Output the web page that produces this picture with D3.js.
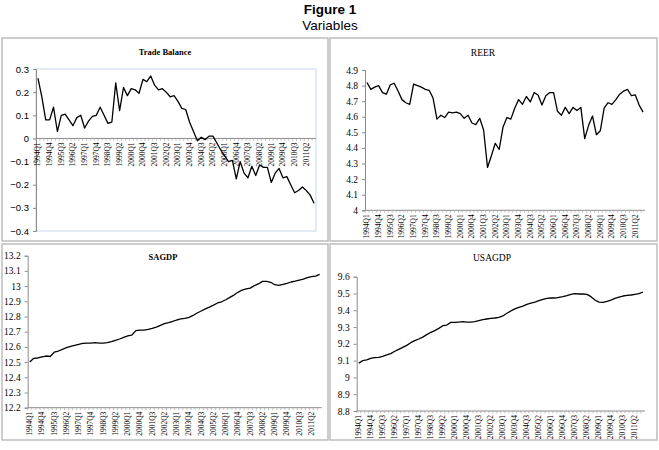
<!DOCTYPE html>
<html>
<head>
<meta charset="utf-8">
<script src="https://cdnjs.cloudflare.com/ajax/libs/d3/7.8.5/d3.min.js"></script>
<style>
  body { margin: 0; background: #fff; }
  svg { display: block; }
  .serif { font-family: "Liberation Serif", "Times New Roman", serif; }
  .sans { font-family: "Liberation Sans", Arial, sans-serif; }
</style>
</head>
<body>
<svg width="659" height="450"></svg>
<script>
const years = d3.range(1994, 2012)
const quarters = []
years.forEach(y => { ["Q1", "Q2", "Q3", "Q4"].forEach(q => quarters.push(y + q)) })

const tradeBalance = [
  0.26, 0.18, 0.08, 0.08, 0.135, 0.03, 0.10, 0.105, 0.08, 0.055, 0.09, 0.10,
  0.045, 0.075, 0.095, 0.10, 0.135, 0.10, 0.065, 0.07, 0.24, 0.12, 0.22, 0.185,
  0.215, 0.21, 0.195, 0.255, 0.245, 0.27, 0.23, 0.21, 0.215, 0.20, 0.18, 0.185,
  0.16, 0.13, 0.125, 0.07, 0.03, -0.01, 0.005, -0.005, 0.01, 0.01, -0.02, -0.05,
  -0.075, -0.10, -0.095, -0.175, -0.10, -0.15, -0.17, -0.12, -0.16, -0.115, -0.125, -0.125,
  -0.19, -0.15, -0.13, -0.17, -0.165, -0.20, -0.235, -0.225, -0.21, -0.225, -0.245, -0.28
]

const reer = [
  4.82, 4.776, 4.79, 4.80, 4.755, 4.745, 4.805, 4.815, 4.765, 4.71, 4.69, 4.68,
  4.81, 4.80, 4.79, 4.776, 4.77, 4.72, 4.585, 4.61, 4.595, 4.63, 4.625, 4.63,
  4.62, 4.59, 4.61, 4.56, 4.55, 4.59, 4.515, 4.275, 4.35, 4.43, 4.39, 4.535,
  4.595, 4.585, 4.655, 4.71, 4.68, 4.73, 4.695, 4.755, 4.74, 4.675, 4.735, 4.755,
  4.755, 4.635, 4.61, 4.66, 4.62, 4.66, 4.64, 4.66, 4.46, 4.545, 4.605, 4.485,
  4.51, 4.655, 4.69, 4.68, 4.71, 4.745, 4.765, 4.776, 4.735, 4.74, 4.675, 4.63
]

const sagdp = [
  12.50, 12.525, 12.527, 12.535, 12.54, 12.537, 12.565, 12.573, 12.584, 12.595, 12.603, 12.61,
  12.617, 12.623, 12.625, 12.625, 12.628, 12.625, 12.625, 12.628, 12.634, 12.643, 12.652, 12.663,
  12.672, 12.678, 12.707, 12.711, 12.711, 12.715, 12.722, 12.73, 12.742, 12.753, 12.76, 12.768,
  12.777, 12.784, 12.788, 12.794, 12.807, 12.823, 12.836, 12.85, 12.862, 12.875, 12.889, 12.897,
  12.91, 12.926, 12.941, 12.959, 12.974, 12.981, 12.987, 13.003, 13.014, 13.031, 13.031, 13.025,
  13.009, 13.005, 13.011, 13.018, 13.027, 13.033, 13.04, 13.046, 13.055, 13.062, 13.066, 13.077
]

const usagdp = [
  9.084, 9.10, 9.104, 9.114, 9.118, 9.12, 9.126, 9.134, 9.142, 9.156, 9.167, 9.179,
  9.191, 9.207, 9.219, 9.229, 9.24, 9.255, 9.268, 9.279, 9.292, 9.308, 9.312, 9.328,
  9.328, 9.33, 9.332, 9.33, 9.33, 9.332, 9.338, 9.344, 9.348, 9.352, 9.354, 9.358,
  9.366, 9.382, 9.396, 9.408, 9.417, 9.425, 9.435, 9.443, 9.449, 9.457, 9.465, 9.471,
  9.473, 9.473, 9.477, 9.481, 9.487, 9.495, 9.499, 9.497, 9.497, 9.495, 9.481, 9.461,
  9.449, 9.447, 9.453, 9.461, 9.471, 9.479, 9.485, 9.489, 9.491, 9.495, 9.499, 9.509
]

const svg = d3.select("svg")

svg.append("text")
  .attr("class", "sans")
  .attr("x", 330).attr("y", 14)
  .attr("text-anchor", "middle")
  .attr("font-size", 13.5).attr("font-weight", "bold")
  .text("Figure 1")

svg.append("text")
  .attr("class", "sans")
  .attr("x", 330).attr("y", 30)
  .attr("text-anchor", "middle")
  .attr("font-size", 13.5)
  .text("Variables")

// panel frames
const frames = [
  { x: 2, y: 38, w: 326, h: 203 },
  { x: 330, y: 38, w: 327, h: 203 },
  { x: 2, y: 244, w: 326, h: 196 },
  { x: 330, y: 244, w: 327, h: 196 }
]
svg.selectAll("rect.frame")
  .data(frames)
  .enter()
  .append("rect")
  .attr("class", "frame")
  .attr("x", d => d.x).attr("y", d => d.y)
  .attr("width", d => d.w).attr("height", d => d.h)
  .attr("fill", "none")
  .attr("stroke", "#bdbdbd")
  .attr("stroke-width", 1.5)

const charts = [
  { title: "Trade Balance", values: tradeBalance, x0: 36, x1: 316, y0: 231, y1: 69,
    domain: [-0.4, 0.3], axisAt: 0, tickFont: "sans", tickSize: 9.5, titleX: 165, titleY: 55,
    titleSize: 8.5, titleBold: true, border: true },
  { title: "REER", values: reer, x0: 365, x1: 645, y0: 210.3, y1: 70,
    domain: [4, 4.9], axisAt: 4, tickFont: "serif", tickSize: 9.5, titleX: 483, titleY: 56,
    titleSize: 9.5, titleBold: false },
  { title: "SAGDP", values: sagdp, x0: 27.7, x1: 321.7, y0: 407.7, y1: 255.7,
    domain: [12.2, 13.2], axisAt: 12.2, tickFont: "serif", tickSize: 9.5, titleX: 163, titleY: 260,
    titleSize: 8.5, titleBold: true },
  { title: "USAGDP", values: usagdp, x0: 356.7, x1: 645, y0: 411, y1: 276.7,
    domain: [8.8, 9.6], axisAt: 8.8, tickFont: "serif", tickSize: 9.5, titleX: 492, titleY: 261,
    titleSize: 9.5, titleBold: false }
]

charts.forEach(c => {
  const g = svg.append("g")

  const x = d3.scaleBand().domain(quarters).range([c.x0, c.x1])
  const y = d3.scaleLinear().domain(c.domain).range([c.y0, c.y1])

  if (c.border) {
    g.append("rect")
      .attr("x", c.x0).attr("y", c.y1)
      .attr("width", c.x1 - c.x0).attr("height", c.y0 - c.y1)
      .attr("fill", "none")
      .attr("stroke", "#c9d5e8")
      .attr("stroke-width", 1)
  }

  g.append("text")
    .attr("class", "serif")
    .attr("x", c.titleX).attr("y", c.titleY)
    .attr("text-anchor", "middle")
    .attr("font-size", c.titleSize)
    .attr("font-weight", c.titleBold ? "bold" : "normal")
    .text(c.title)

  // y axis
  const yAxis = d3.axisLeft(y)
    .tickValues(d3.range(Math.round(c.domain[0] * 10), Math.round(c.domain[1] * 10) + 1).map(v => v / 10))
    .tickSize(3)
    .tickPadding(4)
    .tickFormat(d3.format("~g"))

  const ya = g.append("g")
    .attr("transform", `translate(${c.x0},0)`)
    .call(yAxis)
  ya.select(".domain").attr("stroke", "#8c8c8c")
  ya.selectAll(".tick line").attr("stroke", "#8c8c8c")
  ya.selectAll(".tick text")
    .attr("class", c.tickFont)
    .attr("font-size", c.tickSize)
    .attr("fill", "#000")

  // x axis
  const ax = y(c.axisAt)
  const xa = g.append("g").attr("transform", `translate(0,${ax})`)
  xa.append("line")
    .attr("x1", c.x0).attr("x2", c.x1)
    .attr("stroke", "#8c8c8c")
  xa.selectAll("line.tk")
    .data(quarters)
    .enter()
    .append("line")
    .attr("class", "tk")
    .attr("x1", d => x(d)).attr("x2", d => x(d))
    .attr("y1", 0).attr("y2", 2.5)
    .attr("stroke", "#a0a0a0")
    .attr("stroke-width", 0.6)
  xa.selectAll("text")
    .data(quarters.filter((d, i) => i % 3 === 0))
    .enter()
    .append("text")
    .attr("class", "serif")
    .attr("font-size", 7.5)
    .attr("text-anchor", "end")
    .attr("transform", d => `translate(${x(d) + x.bandwidth() / 2 + 2.5},4) rotate(-90)`)
    .text(d => d)

  // line
  const line = d3.line()
    .x((d, i) => x(quarters[i]) + x.bandwidth() / 2)
    .y(d => y(d))

  g.append("path")
    .datum(c.values)
    .attr("d", line)
    .attr("fill", "none")
    .attr("stroke", "#000")
    .attr("stroke-width", 1.3)
    .attr("stroke-linejoin", "round")
})
</script>
</body>
</html>
